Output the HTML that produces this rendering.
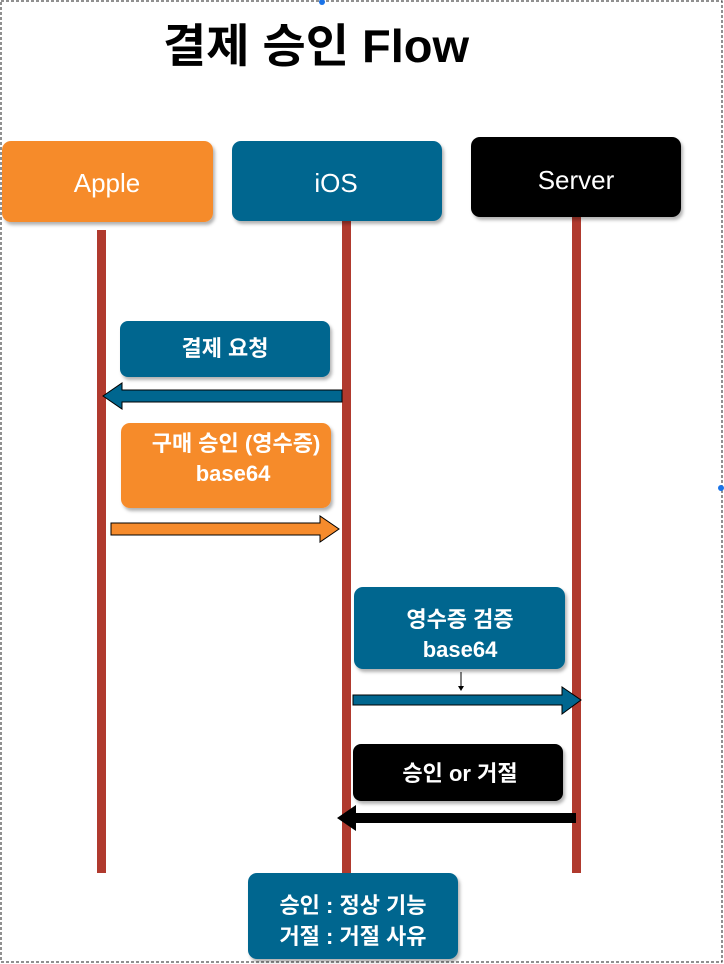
<!DOCTYPE html>
<html><head><meta charset="utf-8"><style>
html,body{margin:0;padding:0;background:#fff;}
svg{display:block}
text{font-family:"Liberation Sans","Noto Sans CJK KR",sans-serif;}
</style></head><body>
<svg width="724" height="964" viewBox="0 0 724 964" xmlns="http://www.w3.org/2000/svg">
<rect x="1" y="1" width="721" height="961" fill="#fff" stroke="#222" stroke-width="1" stroke-dasharray="3,2"/>
<circle cx="322" cy="2" r="3" fill="#1a73e8"/>
<circle cx="721" cy="488" r="3" fill="#1a73e8"/>
<text x="316" y="62" text-anchor="middle" font-size="46" font-weight="bold" fill="#000" textLength="306" lengthAdjust="spacingAndGlyphs">결제 승인 Flow</text>

<defs><filter id="sh" x="-10%" y="-10%" width="130%" height="140%"><feDropShadow dx="2" dy="3" stdDeviation="1.5" flood-color="#000" flood-opacity="0.3"/></filter></defs>

<rect x="97" y="230" width="9" height="643" fill="#B03A2E"/>
<rect x="342" y="221" width="9" height="652" fill="#B03A2E"/>
<rect x="572" y="217" width="9" height="656" fill="#B03A2E"/>

<rect x="2" y="141" width="211" height="81" rx="9" fill="#F68B2C" filter="url(#sh)"/>
<text x="107" y="192" text-anchor="middle" font-size="26" fill="#fff">Apple</text>
<rect x="232" y="141" width="210" height="80" rx="9" fill="#00668F" filter="url(#sh)"/>
<text x="336" y="192" text-anchor="middle" font-size="26" fill="#fff">iOS</text>
<rect x="471" y="137" width="210" height="80" rx="9" fill="#000" filter="url(#sh)"/>
<text x="576" y="189" text-anchor="middle" font-size="26" fill="#fff">Server</text>

<rect x="120" y="321" width="210" height="56" rx="8" fill="#00668F" filter="url(#sh)"/>
<text x="225" y="356" text-anchor="middle" font-size="22" font-weight="bold" fill="#fff">결제 요청</text>
<polygon points="342,390 122,390 122,383 103,396 122,409 122,402 342,402" fill="#00668F" stroke="#000" stroke-width="1"/>

<rect x="121" y="423" width="210" height="85" rx="9" fill="#F68B2C" filter="url(#sh)"/>
<text x="236" y="451" text-anchor="middle" font-size="22" font-weight="bold" fill="#fff">구매 승인 (영수증)</text>
<text x="233" y="481" text-anchor="middle" font-size="22" font-weight="bold" fill="#fff">base64</text>
<polygon points="111,523 320,523 320,516 339,529 320,542 320,535 111,535" fill="#F68B2C" stroke="#000" stroke-width="1"/>

<rect x="354" y="587" width="211" height="82" rx="9" fill="#00668F" filter="url(#sh)"/>
<text x="460" y="627" text-anchor="middle" font-size="22" font-weight="bold" fill="#fff">영수증 검증</text>
<text x="460" y="657" text-anchor="middle" font-size="22" font-weight="bold" fill="#fff">base64</text>
<line x1="461" y1="672" x2="461" y2="687" stroke="#000" stroke-width="1"/>
<polygon points="458,686 464,686 461,691" fill="#000"/>
<polygon points="353,695 562,695 562,687 581,700 562,714 562,705 353,705" fill="#00668F" stroke="#000" stroke-width="1"/>

<rect x="353" y="744" width="210" height="57" rx="8" fill="#000" filter="url(#sh)"/>
<text x="460" y="781" text-anchor="middle" font-size="22" font-weight="bold" fill="#fff">승인 or 거절</text>
<polygon points="576,813 356,813 356,805 337,818 356,831 356,823 576,823" fill="#000"/>

<rect x="248" y="873" width="210" height="86" rx="9" fill="#00668F" filter="url(#sh)"/>
<text x="353" y="913" text-anchor="middle" font-size="22" font-weight="bold" fill="#fff">승인 : 정상 기능</text>
<text x="353" y="944" text-anchor="middle" font-size="22" font-weight="bold" fill="#fff">거절 : 거절 사유</text>
</svg>
</body></html>
